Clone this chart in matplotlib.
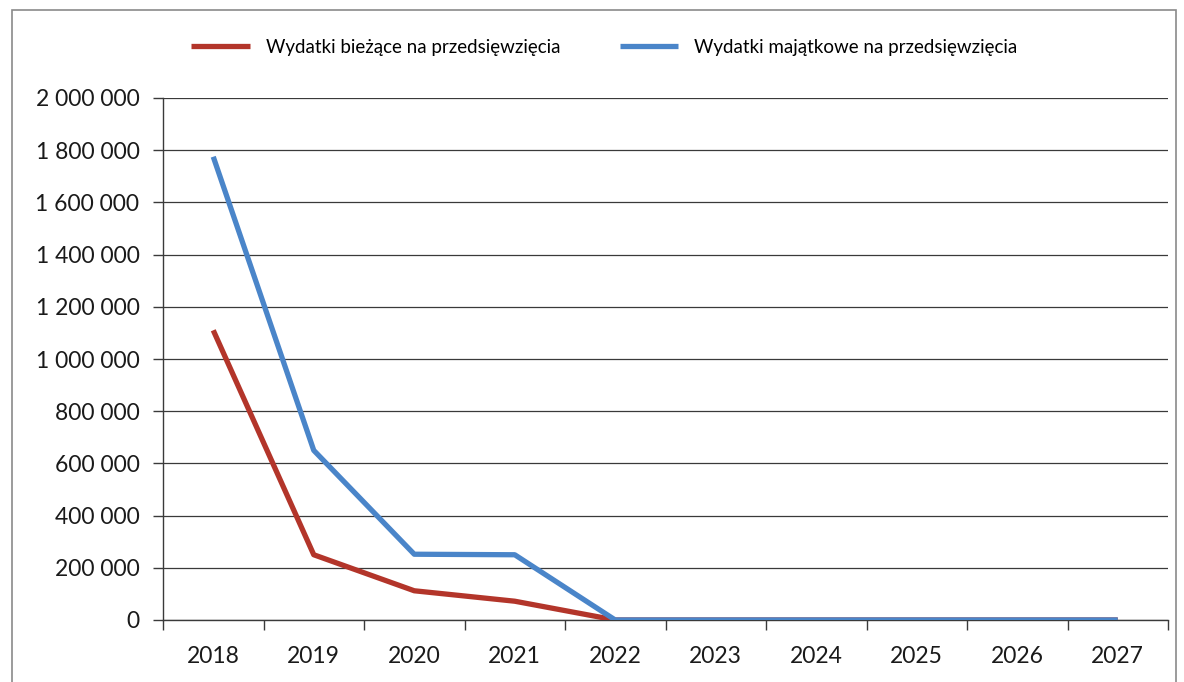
import matplotlib
matplotlib.use("Agg")
import matplotlib.pyplot as plt
from matplotlib.patches import Rectangle
from matplotlib.ticker import FuncFormatter, FixedLocator

years = ["2018", "2019", "2020", "2021", "2022", "2023", "2024", "2025", "2026", "2027"]
biezace = [1110000, 250000, 112000, 72000, 0, 0, 0, 0, 0, 0]
majatkowe = [1775000, 650000, 252000, 250000, 0, 0, 0, 0, 0, 0]
series_names = ["Wydatki bieżące na przedsięwzięcia", "Wydatki majątkowe na przedsięwzięcia"]

plt.rcParams["font.family"] = ["Lato", "DejaVu Sans"]

W, H = 1184, 682
fig = plt.figure(figsize=(W / 100, H / 100), dpi=100)
fig.patch.set_facecolor("white")

# outer chart frame
fig.patches.append(Rectangle((12 / W, -0.05), (1176 - 12) / W, 1.05 - 10 / H,
                             transform=fig.transFigure, fill=False,
                             edgecolor="#8a8a8a", linewidth=1.2))

ax = fig.add_axes([163 / W, 1 - 620 / H, (1168 - 163) / W, (620 - 98) / H])

x = list(range(len(years)))
l1, = ax.plot(x, biezace, color="#B3352A", linewidth=3.8, solid_capstyle="butt", zorder=3)
l2, = ax.plot(x, majatkowe, color="#4A85C9", linewidth=3.8, solid_capstyle="butt", zorder=4)

ax.set_xlim(-0.5, len(years) - 0.5)
ax.set_ylim(0, 2000000)

ax.yaxis.set_major_locator(FixedLocator(range(0, 2000001, 200000)))
ax.yaxis.set_major_formatter(FuncFormatter(lambda v, p: f"{int(v):,}".replace(",", " ")))
ax.grid(axis="y", color="#3a3a3a", linewidth=0.9)
ax.set_axisbelow(True)

ax.set_xticks(x)
ax.set_xticklabels(years)
ax.set_xticks([i - 0.5 for i in range(len(years) + 1)], minor=True)
ax.tick_params(axis="x", which="major", length=0, pad=19, labelsize=16.5, labelcolor="#1a1a1a")
ax.tick_params(axis="x", which="minor", length=7, width=1, color="#3a3a3a", direction="out")
ax.tick_params(axis="y", length=7, width=1, color="#3a3a3a", direction="out",
               pad=10, labelsize=16.5, labelcolor="#1a1a1a")

for s in ("top", "right"):
    ax.spines[s].set_visible(False)
ax.spines["left"].set_color("#3a3a3a")
ax.spines["bottom"].set_color("#3a3a3a")
ax.spines["left"].set_linewidth(1)
ax.spines["bottom"].set_linewidth(1)

fig.legend([l1, l2], series_names, loc="center", bbox_to_anchor=(0.5105, 1 - 47 / H),
           ncol=2, frameon=False, fontsize=13.5, handlelength=3.1, handletextpad=0.85,
           columnspacing=3.2)

fig.savefig("out.png", dpi=100, facecolor="white")
